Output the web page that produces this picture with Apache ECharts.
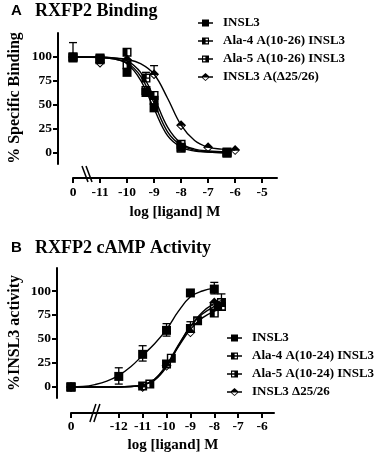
<!DOCTYPE html>
<html><head><meta charset="utf-8">
<script src="https://cdn.jsdelivr.net/npm/echarts@6/dist/echarts.min.js"></script>
<style>html,body{margin:0;padding:0;background:#fff}#c{width:384px;height:459px}</style>
</head><body><div id="c"></div>
<script>
// ---------- DATA ----------
const xTicksA = [-12, -11, -10, -9, -8, -7, -6, -5];
const xLabelsA = ['0', '-11', '-10', '-9', '-8', '-7', '-6', '-5'];
const xTicksB = [-14, -12, -11, -10, -9, -8, -7, -6];
const xLabelsB = ['0', '-12', '-11', '-10', '-9', '-8', '-7', '-6'];
const yTicks = [0, 25, 50, 75, 100];

const namesA = ['INSL3', 'Ala-4 A(10-26) INSL3', 'Ala-5 A(10-26) INSL3', 'INSL3 A(\u039425/26)'];
const namesB = ['INSL3', 'Ala-4 A(10-24) INSL3', 'Ala-5 A(10-24) INSL3', 'INSL3 \u039425/26'];

// Panel A points [log M, % specific binding]
const aInsl3 = [[-12, 100], [-11, 98], [-10, 84], [-9.3, 63], [-9, 47], [-8, 6], [-6.3, 0]];
const aAla4 = [[-12, 100], [-11, 99], [-10, 105], [-9.3, 78], [-9, 60], [-8, 9], [-6.3, 1]];
const aAla5 = [[-12, 99], [-11, 97], [-10, 92], [-9.3, 65], [-9, 55], [-8, 5], [-6.3, 0]];
const aDelta = [[-12, 100], [-11, 94], [-10, 97], [-9, 82], [-8, 29], [-7, 6], [-6, 3]];
const aErr = [[-12, 100, 115], [-9, 82, 91], [-9.3, 78, 84]];
// Panel A fitted curves
const aFitInsl3 = [[-12, 100], [-11, 99.5], [-10.5, 98], [-10, 93], [-9.5, 76], [-9, 46], [-8.5, 18], [-8, 6], [-7.5, 2], [-7, 1], [-6.3, 0]];
const aFitAla4 = [[-12, 100], [-11, 100], [-10.5, 99], [-10, 96], [-9.5, 84], [-9, 58], [-8.5, 27], [-8, 10], [-7.5, 4], [-7, 2], [-6.3, 1]];
const aFitAla5 = [[-12, 100], [-11, 99.5], [-10.5, 98], [-10, 94], [-9.5, 80], [-9, 52], [-8.5, 22], [-8, 8], [-7.5, 3], [-7, 1], [-6.3, 0.5]];
const aFitDelta = [[-12, 100], [-11, 99.5], [-10.5, 99], [-10, 97.5], [-9.5, 93], [-9, 82], [-8.5, 57], [-8, 29], [-7.5, 13], [-7, 6], [-6.5, 4], [-6, 3]];

// Panel B points [log M, % INSL3 activity]
const bInsl3 = [[-14, 0], [-12, 11], [-11, 34], [-10, 59], [-9, 98], [-8, 102]];
const bAla4 = [[-14, 0], [-11, 1], [-10, 24], [-9, 61], [-8, 77], [-7.7, 84]];
const bAla5 = [[-14, 0], [-10.7, 3], [-9.8, 30], [-8.7, 69], [-8, 84], [-7.7, 88]];
const bDelta = [[-14, 0], [-11, 0], [-10, 22], [-9, 57], [-8, 88]];
const bErr = [[-12, 3, 20], [-11, 27, 43], [-10, 53, 66], [-8, 97, 109], [-7.7, 80, 97], [-9, 57, 68], [-8.7, 66, 72]];
// Panel B fitted curves
const bFitInsl3 = [[-14, 0], [-13.5, 0.5], [-13, 2.5], [-12.5, 6], [-12, 12], [-11.5, 21], [-11, 33], [-10.5, 45], [-10, 60], [-9.5, 79], [-9, 94], [-8.5, 100], [-8, 103]];
const bFitAla4 = [[-14, 0], [-12, 0], [-11.5, 0.5], [-11, 2], [-10.5, 8], [-10, 22], [-9.5, 42], [-9, 60], [-8.5, 72], [-8, 79], [-7.7, 81]];
const bFitAla5 = [[-14, 0], [-12, 0], [-11.5, 0.5], [-11, 2], [-10.5, 8], [-10, 23], [-9.5, 44], [-9, 63], [-8.5, 76], [-8, 84], [-7.7, 87]];
const bFitDelta = [[-14, 0], [-12, 0], [-11.5, 0.5], [-11, 2], [-10.5, 7], [-10, 21], [-9.5, 43], [-9, 63], [-8.5, 78], [-8, 87], [-7.7, 90]];

// ---------- STYLE ----------
const SERIF = '"Liberation Serif", "Times New Roman", serif';
const SANS = '"Liberation Sans", Arial, sans-serif';
const GA = { left: 73, top: 33, width: 204, height: 131 };
const GB = { left: 71, top: 268, width: 203, height: 130 };

const SYM_FILLED = 'rect';
const SYM_ALA4 = 'path://M0,0L10,0L10,10L0,10Z M5.5,1.6L5.5,8.4L8.4,8.4L8.4,1.6Z';
const SYM_ALA5 = 'path://M0,0L10,0L10,10L0,10Z M1.6,1.6L1.6,8.4L4.5,8.4L4.5,1.6Z';
const SYM_DELTA = 'path://M5,0L10,5L5,10L0,5Z M1.7,5.6L5,8.6L8.3,5.6Z';

const LINE = 'M0,3.3L15,3.3L15,4.7L0,4.7Z ';
const ICON_FILLED = 'path://' + LINE + 'M4,0.5L11,0.5L11,7.5L4,7.5Z';
const ICON_ALA4 = 'path://' + LINE + 'M4,0.5L11,0.5L11,7.5L4,7.5Z M7.6,1.7L7.6,6.3L9.9,6.3L9.9,1.7Z';
const ICON_ALA5 = 'path://' + LINE + 'M4,0.5L11,0.5L11,7.5L4,7.5Z M5.1,1.7L5.1,6.3L7.4,6.3L7.4,1.7Z';
const ICON_DELTA = 'path://M0,3.3L3.6,3.3L3.6,4.7L0,4.7Z M11.4,3.3L15,3.3L15,4.7L11.4,4.7Z M7.5,0L12,4L7.5,8L3,4Z M4.7,4.6L7.5,6.9L10.3,4.6Z';

const symbolsData = [SYM_FILLED, SYM_ALA4, SYM_ALA5, SYM_DELTA];
const icons = [ICON_FILLED, ICON_ALA4, ICON_ALA5, ICON_DELTA];

function xAxisCfg(grid, min, max, ticks, labels, offset, margin) {
  return {
    type: 'value', gridIndex: grid, min: min, max: max, offset: offset,
    axisLine: { onZero: false, lineStyle: { color: '#000', width: 2 } },
    axisTick: { length: 5, customValues: ticks, lineStyle: { color: '#000', width: 2 } },
    axisLabel: {
      customValues: ticks, margin: margin, color: '#000', fontFamily: SERIF, fontWeight: 'bold', fontSize: 13.5,
      formatter: function (v) { const i = ticks.indexOf(v); return i >= 0 ? labels[i] : ''; }
    },
    splitLine: { show: false }
  };
}
function yAxisCfg(grid, min, max, offset) {
  return {
    type: 'value', gridIndex: grid, min: min, max: max, offset: offset,
    axisLine: { onZero: false, lineStyle: { color: '#000', width: 2 } },
    axisTick: { length: 5, customValues: yTicks, lineStyle: { color: '#000', width: 2 } },
    axisLabel: { customValues: yTicks, margin: 6, color: '#000', fontFamily: SERIF, fontWeight: 'bold', fontSize: 13.5 },
    splitLine: { show: false }
  };
}
function curve(name, data, idx) {
  return {
    type: 'line', name: name, xAxisIndex: idx, yAxisIndex: idx, data: data,
    smooth: 0.4, showSymbol: false, symbol: 'none', silent: true, z: 2,
    lineStyle: { color: '#000', width: 1.4 }
  };
}
function points(name, data, idx, sym) {
  return {
    type: 'scatter', name: name, xAxisIndex: idx, yAxisIndex: idx, data: data,
    symbol: sym, symbolSize: sym === SYM_DELTA ? 10 : 9, z: 4,
    itemStyle: { color: '#000', opacity: 1 }
  };
}
function errRender(params, api) {
  const x = api.value(0), lo = api.value(1), hi = api.value(2);
  const t = api.coord([x, hi]), b = api.coord([x, lo]);
  const w = 4, st = { stroke: '#000', lineWidth: 1.3 };
  return { type: 'group', children: [
    { type: 'line', shape: { x1: t[0], y1: t[1], x2: b[0], y2: b[1] }, style: st },
    { type: 'line', shape: { x1: t[0] - w, y1: t[1], x2: t[0] + w, y2: t[1] }, style: st },
    { type: 'line', shape: { x1: b[0] - w, y1: b[1], x2: b[0] + w, y2: b[1] }, style: st }
  ] };
}
function errSeries(data, idx) {
  return { type: 'custom', xAxisIndex: idx, yAxisIndex: idx, data: data, renderItem: errRender,
    encode: { x: 0, y: [1, 2] }, z: 3, silent: true, clip: false };
}
function legendCfg(names, left, top) {
  return {
    data: names.map(function (n, i) { return { name: n, icon: icons[i] }; }),
    orient: 'vertical', left: left, top: top, itemWidth: 15, itemHeight: 8, itemGap: 4,
    padding: 0, selectedMode: false,
    formatter: function (n) { return '{t|' + n + '}'; },
    textStyle: { color: '#000', fontFamily: SERIF, fontWeight: 'bold', fontSize: 13, lineHeight: 14,
      rich: { t: { padding: [0, 0, 0, 5], color: '#000', fontFamily: SERIF, fontWeight: 'bold', fontSize: 13, lineHeight: 14 } } }
  };
}

const chart = echarts.init(document.getElementById('c'), null, { renderer: 'canvas' });
const titleRich = {
  a: { fontFamily: SANS, fontWeight: 'bold', fontSize: 15, color: '#000', width: 24 },
  b: { fontFamily: SERIF, fontWeight: 'bold', fontSize: 18, color: '#000' }
};
chart.setOption({
  animation: false,
  backgroundColor: '#fff',
  title: [
    { text: '{a|A}{b|RXFP2 Binding}', left: 11, top: 2, padding: 0, textStyle: { rich: titleRich } },
    { text: '{a|B}{b|RXFP2 cAMP Activity}', left: 11, top: 239, padding: 0, textStyle: { rich: titleRich } }
  ],
  legend: [legendCfg(namesA, 198, 16), legendCfg(namesB, 227, 331)],
  grid: [
    Object.assign({ outerBoundsMode: 'none', containLabel: false }, GA),
    Object.assign({ outerBoundsMode: 'none', containLabel: false }, GB)
  ],
  xAxis: [
    xAxisCfg(0, -12, -4.45, xTicksA, xLabelsA, 14, 8),
    xAxisCfg(1, -14, -5.5, xTicksB, xLabelsB, 15, 7)
  ],
  yAxis: [yAxisCfg(0, -11.5, 125, 15), yAxisCfg(1, -11.5, 124, 14)],
  series: [
    curve('fitA1', aFitInsl3, 0), curve('fitA2', aFitAla4, 0), curve('fitA3', aFitAla5, 0), curve('fitA4', aFitDelta, 0),
    errSeries(aErr, 0),
    points(namesA[0], aInsl3, 0, symbolsData[0]), points(namesA[1], aAla4, 0, symbolsData[1]),
    points(namesA[2], aAla5, 0, symbolsData[2]), points(namesA[3], aDelta, 0, symbolsData[3]),
    curve('fitB1', bFitInsl3, 1), curve('fitB2', bFitAla4, 1), curve('fitB3', bFitAla5, 1), curve('fitB4', bFitDelta, 1),
    errSeries(bErr, 1),
    points(namesB[0], bInsl3, 1, symbolsData[0]), points(namesB[1], bAla4, 1, symbolsData[1]),
    points(namesB[2], bAla5, 1, symbolsData[2]), points(namesB[3], bDelta, 1, symbolsData[3])
  ]
});

// axis breaks and free text
const axA = GA.top + GA.height + 14;
const axB = GB.top + GB.height + 15;
const bxA = chart.convertToPixel({ xAxisIndex: 0 }, -11.5);
const bxB = chart.convertToPixel({ xAxisIndex: 1 }, -13);
const brk = { stroke: '#000', lineWidth: 1.5 };
const txt = function (t, x, y, rot, size) {
  return { type: 'text', x: x, y: y, rotation: rot, z: 10,
    style: { text: t, fill: '#000', font: 'bold ' + size + 'px ' + SERIF, align: 'center', verticalAlign: 'middle' } };
};
chart.setOption({
  graphic: [
    { type: 'line', shape: { x1: bxA - 4.5, y1: axA - 12, x2: bxA + 1.5, y2: axA + 4 }, style: brk, z: 10 },
    { type: 'line', shape: { x1: bxA - 0.5, y1: axA - 12, x2: bxA + 5.5, y2: axA + 4 }, style: brk, z: 10 },
    { type: 'line', shape: { x1: bxB - 5, y1: axB + 9, x2: bxB + 1, y2: axB - 9 }, style: brk, z: 10 },
    { type: 'line', shape: { x1: bxB - 1, y1: axB + 9, x2: bxB + 5, y2: axB - 9 }, style: brk, z: 10 },
    txt('% Specific Binding', 15, 98, Math.PI / 2, 16),
    txt('%INSL3 activity', 15, 333, Math.PI / 2, 16),
    txt('log [ligand] M', 175, 212, 0, 15),
    txt('log [ligand] M', 173, 445, 0, 15)
  ]
});
</script></body></html>
